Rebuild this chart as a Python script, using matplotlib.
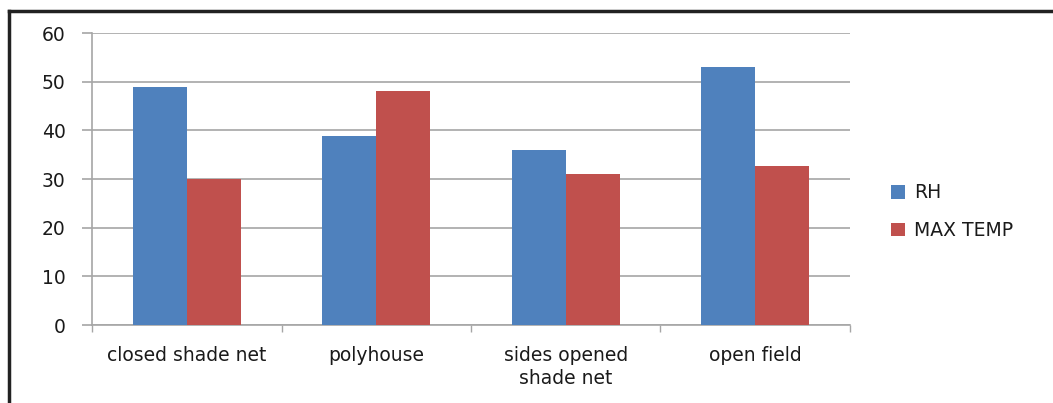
#!/usr/bin/env python3
"""RH and max temperature by growing condition - grouped bar chart."""

import numpy as np
import matplotlib
matplotlib.use('Agg')
import matplotlib.pyplot as plt
from matplotlib.lines import Line2D

categories = ['closed shade net', 'polyhouse', 'sides opened\nshade net', 'open field']
rh = [49, 38.8, 36, 53]
max_temp = [30, 48, 31, 32.6]
series_names = ['RH', 'MAX TEMP']
yticks = [0, 10, 20, 30, 40, 50, 60]

BLUE = '#4F81BD'
RED = '#C0504D'
GRID = '#A6A6A6'
TEXT = '#1a1a1a'
FS = 13.5

plt.rcParams['font.family'] = ['DejaVu Sans']

fig = plt.figure(figsize=(10.53, 4.03), dpi=100)
ax = fig.add_axes([0.0874, 0.1935, 0.7198, 0.7245])

x = np.arange(len(categories))
w = 1 / 3.5
ax.bar(x - w / 2, rh, width=w, color=BLUE, label=series_names[0], zorder=3)
ax.bar(x + w / 2, max_temp, width=w, color=RED, label=series_names[1], zorder=3)

ax.set_xlim(-0.5, len(categories) - 0.5)
ax.set_ylim(0, 60)
ax.set_yticks(yticks)
ax.yaxis.grid(True, color=GRID, linewidth=1.2, zorder=0)
ax.set_axisbelow(True)

# category labels centred, ticks on the boundaries
ax.set_xticks(x)
ax.set_xticklabels(categories, fontsize=FS, color=TEXT, linespacing=1.3)
ax.tick_params(axis='x', length=0, pad=15)
ax.set_xticks(np.arange(-0.5, len(categories)), minor=True)
ax.tick_params(axis='x', which='minor', length=5, color=GRID, width=1)
ax.tick_params(axis='y', length=7, color=GRID, width=1.2, pad=12,
               labelsize=FS, labelcolor=TEXT)

for side in ['top', 'right']:
    ax.spines[side].set_visible(False)
for side in ['left', 'bottom']:
    ax.spines[side].set_color(GRID)
    ax.spines[side].set_linewidth(1.2)

leg = ax.legend(loc='center left', bbox_to_anchor=(0.83, 0.475), bbox_transform=fig.transFigure,
                frameon=False, fontsize=FS, handlelength=0.75, handleheight=0.75,
                handletextpad=0.5, labelspacing=1.0)
for t in leg.get_texts():
    t.set_color(TEXT)

# outer frame: only top and left edges visible in the crop
fig.add_artist(Line2D([0.0085, 0.0085], [0, 0.972], color='#222222', linewidth=2.5,
                      transform=fig.transFigure))
fig.add_artist(Line2D([0.0085, 1.0], [0.972, 0.972], color='#222222', linewidth=2.5,
                      transform=fig.transFigure))

fig.savefig('out.png', dpi=100)
